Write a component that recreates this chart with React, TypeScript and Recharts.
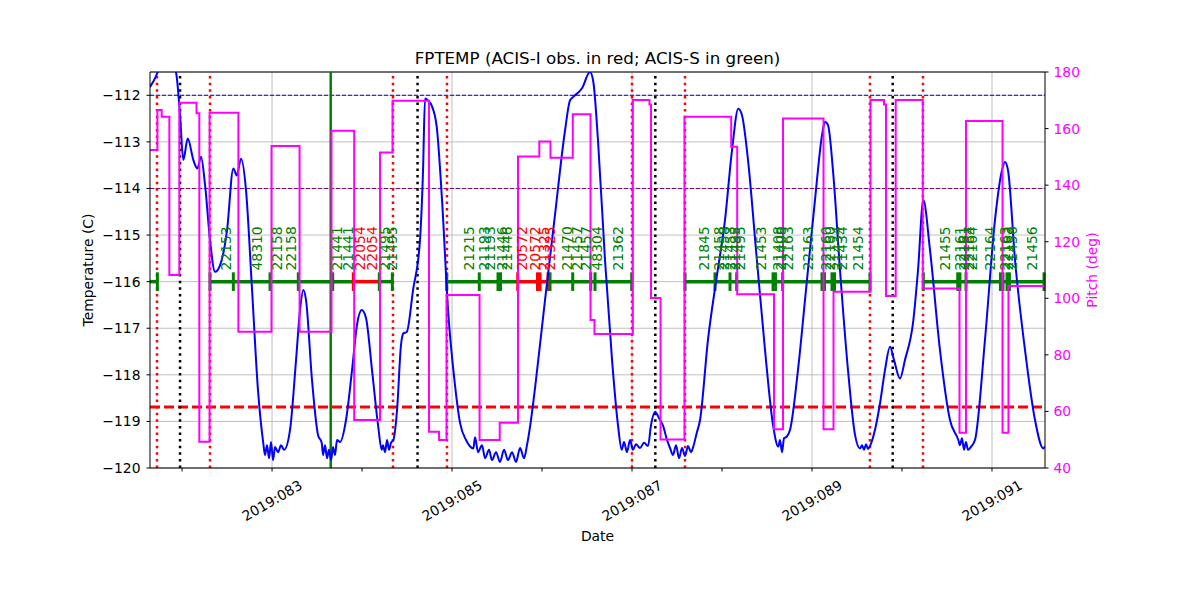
import React from 'react';
import {
  ComposedChart,
  Line,
  Scatter,
  XAxis,
  YAxis,
  CartesianGrid,
  ReferenceLine,
} from 'recharts';

const FONT = '"DejaVu Sans", sans-serif';

// x values are fractional day-of-year 2019
const xDomain = [81.644, 91.589];
const dayTicks = [82, 83, 84, 85, 86, 87, 88, 89, 90, 91];
const gridDays = [83, 85, 87, 89, 91];
const tempTicks = [-120, -119, -118, -117, -116, -115, -114, -113, -112];
const pitchTicks = [40, 60, 80, 100, 120, 140, 160, 180];

// FPTEMP (C)
const tempDays = [
  81.644, 81.711, 81.744, 81.833, 81.933, 81.978, 82.014, 82.063, 82.126, 82.170,
  82.211, 82.256, 82.311, 82.367, 82.422, 82.500, 82.570, 82.608, 82.656, 82.711,
  82.778, 82.844, 82.903, 82.922, 82.944, 82.967, 82.989, 83.011, 83.033, 83.067,
  83.100, 83.133, 83.200, 83.267, 83.311, 83.348, 83.378, 83.444, 83.511, 83.552,
  83.567, 83.589, 83.611, 83.633, 83.656, 83.678, 83.700, 83.722, 83.756, 83.822,
  83.889, 83.944, 83.997, 84.044, 84.111, 84.178, 84.219, 84.233, 84.256, 84.278,
  84.300, 84.322, 84.348, 84.389, 84.433, 84.459, 84.497, 84.567, 84.644, 84.678,
  84.700, 84.733, 84.774, 84.830, 84.889, 84.956, 85.033, 85.089, 85.156, 85.237,
  85.256, 85.289, 85.333, 85.367, 85.411, 85.444, 85.489, 85.533, 85.578, 85.622,
  85.667, 85.711, 85.756, 85.800, 85.833, 85.867, 85.933, 86.033, 86.144, 86.256,
  86.311, 86.344, 86.444, 86.533, 86.570, 86.622, 86.700, 86.778, 86.844, 86.886,
  86.911, 86.944, 86.978, 87.011, 87.044, 87.089, 87.133, 87.178, 87.211, 87.256,
  87.300, 87.348, 87.389, 87.422, 87.456, 87.489, 87.522, 87.556, 87.589, 87.622,
  87.656, 87.681, 87.719, 87.756, 87.844, 87.941, 88.033, 88.111, 88.181, 88.222,
  88.289, 88.378, 88.478, 88.567, 88.626, 88.644, 88.667, 88.689, 88.719, 88.756,
  88.844, 88.933, 89.033, 89.111, 89.144, 89.178, 89.233, 89.311, 89.400, 89.478,
  89.533, 89.556, 89.578, 89.600, 89.622, 89.644, 89.700, 89.756, 89.811, 89.867,
  89.911, 89.978, 90.033, 90.126, 90.178, 90.237, 90.311, 90.422, 90.533, 90.626,
  90.644, 90.667, 90.689, 90.711, 90.733, 90.756, 90.811, 90.922, 91.033, 91.111,
  91.144, 91.178, 91.256, 91.367, 91.478, 91.570, 91.589,
];
const tempValues = [
  -111.82, -111.59, -111.42, -111.14, -111.51, -112.43, -113.39, -112.93, -113.39, -113.57,
  -113.32, -113.93, -115.11, -115.79, -115.65, -114.90, -113.57, -113.72, -113.36, -114.04,
  -116.18, -118.33, -119.47, -119.72, -119.51, -119.79, -119.44, -119.83, -119.55, -119.66,
  -119.51, -119.61, -119.18, -117.68, -116.61, -116.18, -116.40, -118.11, -119.29, -119.46,
  -119.72, -119.51, -119.79, -119.61, -119.83, -119.55, -119.72, -119.40, -119.44, -118.97,
  -117.90, -116.93, -116.61, -116.78, -117.90, -119.08, -119.61, -119.51, -119.66, -119.40,
  -119.61, -119.46, -119.40, -118.76, -117.36, -117.11, -117.08, -116.18, -115.11, -113.61,
  -112.07, -112.11, -112.22, -112.68, -114.25, -116.61, -118.22, -119.03, -119.40, -119.58,
  -119.34, -119.66, -119.51, -119.79, -119.61, -119.83, -119.66, -119.87, -119.61, -119.83,
  -119.66, -119.87, -119.57, -119.79, -119.51, -119.11, -118.11, -116.40, -114.57, -112.75,
  -112.11, -112.04, -111.85, -111.50, -111.71, -112.97, -115.54, -117.68, -119.08, -119.61,
  -119.44, -119.66, -119.40, -119.61, -119.49, -119.57, -119.46, -119.53, -119.08, -118.79,
  -118.93, -119.11, -119.40, -119.57, -119.72, -119.51, -119.79, -119.57, -119.74, -119.53,
  -119.66, -119.54, -119.25, -118.97, -117.25, -115.90, -114.68, -113.18, -112.29, -112.43,
  -113.39, -115.32, -117.47, -119.08, -119.54, -119.40, -119.66, -119.36, -119.33, -119.18,
  -117.90, -116.18, -114.25, -112.86, -112.57, -112.64, -113.61, -115.75, -117.90, -119.29,
  -119.58, -119.51, -119.61, -119.49, -119.59, -119.53, -119.18, -118.61, -117.90, -117.40,
  -117.68, -118.08, -117.68, -116.83, -115.75, -114.25, -115.32, -117.47, -118.97, -119.40,
  -119.51, -119.36, -119.61, -119.44, -119.61, -119.57, -119.40, -117.25, -114.68, -113.61,
  -113.43, -113.61, -115.54, -117.47, -118.97, -119.58, -119.53,
];

// pitch (deg), each value holds until the next day
const pitchDays = [
  81.644, 81.726, 81.774, 81.859, 81.970, 82.161, 82.192, 82.306, 82.626, 82.994,
  83.306, 83.661, 83.913, 84.200, 84.339, 84.744, 84.856, 84.939, 85.306, 85.530,
  85.733, 85.970, 86.094, 86.342, 86.539, 86.583, 87.009, 87.194, 87.211, 87.317,
  87.583, 88.102, 88.169, 88.578, 88.678, 89.128, 89.239, 89.650, 89.800, 89.822,
  89.930, 90.231, 90.639, 90.711, 91.117, 91.183, 91.589,
];
const pitchValues = [
  152.4, 166.6, 164.2, 108.2, 169.1, 165.4, 49.3, 165.6, 88.2, 153.8,
  88.2, 159.2, 57.0, 151.5, 169.8, 52.8, 49.9, 101.2, 49.9, 56.0,
  150.1, 155.4, 149.7, 165.1, 92.3, 87.4, 170.1, 168.5, 100.1, 50.1,
  164.2, 153.6, 101.4, 53.7, 163.6, 53.7, 102.3, 170.1, 168.5, 100.8,
  170.1, 103.5, 52.5, 162.7, 52.5, 104.3, 104.5,
];

// vertical markers
const redDottedDays = [81.722, 82.311, 84.344, 84.944, 87.0, 87.589, 89.644, 90.233];
const blackDottedDays = [81.978, 84.617, 87.259, 89.897];
const greenLineDays = [83.652];

// observation bars at -116
const OBS_Y = -116;
const obsStarts = [81.644, 82.311, 83.903, 84.192, 84.941, 85.730, 86.089, 87.589, 90.237];
const obsEnds = [81.726, 83.903, 84.192, 84.337, 85.730, 86.089, 86.997, 89.644, 91.589];
const obsInstr = ['S', 'S', 'I', 'S', 'S', 'I', 'S', 'S', 'S'];

const obsTickDays = [
  81.726, 82.311, 82.570, 82.978, 83.292, 83.674, 83.903, 84.192, 84.337,
  84.941, 85.303, 85.511, 85.539, 85.730, 85.950, 85.978, 86.067, 86.089, 86.341,
  86.541, 86.589, 86.997, 87.589, 87.922, 88.089, 88.163, 88.567, 88.594, 88.674,
  89.111, 89.139, 89.222, 89.250, 89.644, 90.237, 90.619, 90.644, 90.711, 91.094,
  91.122, 91.167, 91.194, 91.578,
];
const obsTickInstr = [
  'S', 'S', 'S', 'S', 'S', 'S', 'I', 'S', 'S',
  'S', 'S', 'S', 'S', 'I', 'I', 'I', 'I', 'S', 'S',
  'S', 'S', 'S', 'S', 'S', 'S', 'S', 'S', 'S', 'S',
  'S', 'S', 'S', 'S', 'S', 'S', 'S', 'S', 'S', 'S',
  'S', 'S', 'S', 'S',
];

const obsLabelDays = [
  82.489, 82.830, 83.052, 83.208, 83.719, 83.848, 83.978, 84.114, 84.256, 84.330,
  85.189, 85.359, 85.422, 85.556, 85.611, 85.774, 85.922, 86.022, 86.089, 86.274,
  86.386, 86.486, 86.608, 86.848, 87.800, 87.961, 88.017, 88.089, 88.144, 88.200,
  88.428, 88.617, 88.656, 88.733, 88.956, 89.156, 89.200, 89.278, 89.328, 89.511,
  90.478, 90.644, 90.689, 90.739, 90.783, 90.978, 91.144, 91.183, 91.222, 91.444,
];
const obsLabelIds = [
  '22153', '48310', '22158', '22158', '21441', '21441', '22054', '22054', '21495', '21495',
  '21215', '21193', '21193', '21446', '21446', '20572', '20572', '21325', '21325', '21470',
  '21457', '21457', '48304', '21362', '21845', '21458', '21458', '21453', '21495', '21495',
  '21453', '21408', '21408', '22163', '22163', '22160', '22160', '21434', '21434', '21454',
  '21455', '22161', '22161', '22164', '22164', '22164', '22163', '22163', '21456', '21456',
];
const obsLabelInstr = [
  'S', 'S', 'S', 'S', 'S', 'S', 'I', 'I', 'S', 'S',
  'S', 'S', 'S', 'S', 'S', 'I', 'I', 'I', 'I', 'S',
  'S', 'S', 'S', 'S', 'S', 'S', 'S', 'S', 'S', 'S',
  'S', 'S', 'S', 'S', 'S', 'S', 'S', 'S', 'S', 'S',
  'S', 'S', 'S', 'S', 'S', 'S', 'S', 'S', 'S', 'S',
];

const instrColor = (i: string) => (i === 'I' ? '#ff0000' : '#008000');
const minus = (v: number) => (v < 0 ? '\u2212' + Math.abs(v) : String(v));

const tempData = tempDays.map((d, i) => ({ day: d, temp: tempValues[i] }));
const pitchData = pitchDays.map((d, i) => ({ day: d, pitch: pitchValues[i] }));
const labelData = obsLabelDays.map((d, i) => ({
  day: d,
  temp: -115.76,
  id: obsLabelIds[i],
  color: instrColor(obsLabelInstr[i]),
}));

const DateTick = ({ x, y, payload }: any) => {
  const day = payload.value;
  if (day % 2 === 0) return <g />;
  const cy = y + 27;
  return (
    <text
      x={x}
      y={cy}
      transform={`rotate(-30, ${x}, ${cy})`}
      textAnchor="middle"
      dominantBaseline="central"
      fontSize={13.9}
      fontFamily={FONT}
      fill="#000"
    >
      {`2019:${String(day).padStart(3, '0')}`}
    </text>
  );
};

const ObsLabel = (props: any) => {
  const { cx, cy, payload } = props;
  return (
    <text
      x={cx}
      y={cy}
      dy="0.36em"
      transform={`rotate(-90, ${cx}, ${cy})`}
      fontSize={13.9}
      fontFamily={FONT}
      fill={payload.color}
    >
      {payload.id}
    </text>
  );
};

export default function App() {
  return (
    <div style={{ position: 'absolute', left: 0, top: 0, width: 1200, height: 600, background: '#fff', fontFamily: FONT }}>
      <div
        style={{
          position: 'absolute',
          left: 150,
          width: 895,
          top: 47,
          lineHeight: '22px',
          textAlign: 'center',
          fontSize: 16.7,
          color: '#000',
        }}
      >
        FPTEMP (ACIS-I obs. in red; ACIS-S in green)
      </div>
      <ComposedChart width={1200} height={600} margin={{ top: 72, right: 0, bottom: 0, left: 0 }}>
        <CartesianGrid yAxisId="left" vertical={false} stroke="#b0b0b0" strokeWidth={0.8} />
        {gridDays.map((d) => (
          <ReferenceLine key={`g${d}`} yAxisId="left" x={d} stroke="#b0b0b0" strokeWidth={0.8} />
        ))}
        <XAxis
          dataKey="day"
          type="number"
          domain={xDomain}
          allowDataOverflow
          ticks={dayTicks}
          interval={0}
          height={132}
          tickSize={3.5}
          tickMargin={2}
          stroke="#000"
          tick={<DateTick />}
          label={{ value: 'Date', position: 'insideBottom', offset: 59, fill: '#000', fontSize: 13.9 }}
        />
        <YAxis
          yAxisId="left"
          type="number"
          domain={[-120, -111.5]}
          allowDataOverflow
          ticks={tempTicks}
          interval={0}
          width={150}
          tickSize={3.5}
          tickMargin={6}
          stroke="#000"
          tickFormatter={minus}
          tick={{ fill: '#000', fontSize: 13.9, fontFamily: FONT }}
          label={{
            value: 'Temperature (C)',
            angle: -90,
            position: 'insideLeft',
            offset: 88,
            fill: '#000',
            fontSize: 13.9,
            style: { textAnchor: 'middle' },
          }}
        />
        <YAxis
          yAxisId="right"
          orientation="right"
          type="number"
          domain={[40, 180]}
          allowDataOverflow
          ticks={pitchTicks}
          interval={0}
          width={155}
          tickSize={3.5}
          tickMargin={5}
          stroke="#000"
          tick={{ fill: '#ff00ff', fontSize: 13.9, fontFamily: FONT }}
          label={{
            value: 'Pitch (deg)',
            angle: -90,
            position: 'insideRight',
            offset: 108,
            fill: '#ff00ff',
            fontSize: 13.9,
            style: { textAnchor: 'middle' },
          }}
        />

        <ReferenceLine yAxisId="left" y={-112} stroke="#0000ff" strokeWidth={1} strokeDasharray="4 2" />
        <ReferenceLine yAxisId="left" y={-114} stroke="#800080" strokeWidth={1} strokeDasharray="4 2" />
        <ReferenceLine yAxisId="left" y={-118.69} stroke="#ff0000" strokeWidth={3} strokeDasharray="10 4" />
        <ReferenceLine yAxisId="left" y={-111.5} stroke="#000" strokeWidth={1} />

        {redDottedDays.map((d) => (
          <ReferenceLine key={`r${d}`} yAxisId="left" x={d} stroke="#ff0000" strokeWidth={2.5} strokeDasharray="2.5 4.1" />
        ))}
        {blackDottedDays.map((d) => (
          <ReferenceLine key={`b${d}`} yAxisId="left" x={d} stroke="#000" strokeWidth={2.5} strokeDasharray="2.5 4.1" />
        ))}
        {greenLineDays.map((d) => (
          <ReferenceLine key={`gl${d}`} yAxisId="left" x={d} stroke="#008000" strokeWidth={2.5} />
        ))}

        {obsStarts.map((s, i) => (
          <ReferenceLine
            key={`o${i}`}
            yAxisId="left"
            segment={[{ x: s, y: OBS_Y }, { x: obsEnds[i], y: OBS_Y }]}
            stroke={instrColor(obsInstr[i])}
            strokeWidth={3.5}
          />
        ))}
        {obsTickDays.map((d, i) => (
          <ReferenceLine
            key={`t${i}`}
            yAxisId="left"
            segment={[{ x: d, y: OBS_Y - 0.2 }, { x: d, y: OBS_Y + 0.2 }]}
            stroke={instrColor(obsTickInstr[i])}
            strokeWidth={3}
          />
        ))}

        <Line
          yAxisId="left"
          data={tempData}
          dataKey="temp"
          type="monotone"
          stroke="#0000ff"
          strokeWidth={2}
          dot={false}
          activeDot={false}
          isAnimationActive={false}
        />
        <Line
          yAxisId="right"
          data={pitchData}
          dataKey="pitch"
          type="stepAfter"
          stroke="#ff00ff"
          strokeWidth={2}
          dot={false}
          activeDot={false}
          isAnimationActive={false}
        />
        <Scatter
          yAxisId="left"
          data={labelData}
          dataKey="temp"
          shape={<ObsLabel />}
          isAnimationActive={false}
        />
      </ComposedChart>
    </div>
  );
}
